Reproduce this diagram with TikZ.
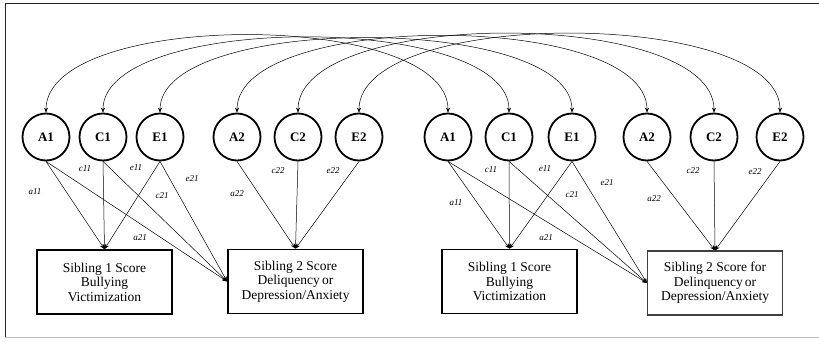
\documentclass[tikz,border=0pt]{standalone}
\usepackage{fontspec}
\setmainfont{Liberation Serif}
\usetikzlibrary{arrows.meta}
\begin{document}
\begin{tikzpicture}[x=1pt,y=-1pt,
  latent/.style={circle,draw,line width=1.8pt,minimum size=47pt,inner sep=0pt,font=\fontsize{13}{13}\selectfont\bfseries},
  obsbox/.style={draw,line width=1.7pt,minimum width=135pt,minimum height=64pt,align=center,inner sep=2pt,font=\fontsize{13.5}{14.5}\selectfont},
  obsthin/.style={obsbox,line width=1.1pt,draw=black!75},
  path/.style={line width=0.5pt,-{Stealth[length=5pt,width=4pt]}},
  cov/.style={line width=0.5pt,{Stealth[length=5pt,width=4pt]}-{Stealth[length=5pt,width=4pt]}},
  coef/.style={font=\fontsize{9}{9}\selectfont\itshape,inner sep=0pt}]
\useasboundingbox (0,0) rectangle (819,342);
% frame
\draw[line width=0.9pt,black!85] (819,3) coordinate (fTR) -- (5,3) coordinate (fTL) -- (5,337) coordinate (fBL);
\draw[line width=0.9pt,black!25] (fBL) -- (819,337);
% latent variables, left model
\node[latent] (lA1) at (46,137) {A1};
\node[latent] (lC1) at (103,137) {C1};
\node[latent] (lE1) at (160,137) {E1};
\node[latent] (lA2) at (237,137) {A2};
\node[latent] (lC2) at (298,137) {C2};
\node[latent] (lE2) at (359,137) {E2};
% latent variables, right model
\node[latent] (rA1) at (448,137) {A1};
\node[latent] (rC1) at (509,137) {C1};
\node[latent] (rE1) at (572,137) {E1};
\node[latent] (rA2) at (647,137) {A2};
\node[latent] (rC2) at (714,137) {C2};
\node[latent] (rE2) at (780,137) {E2};
% observed
\node[obsbox] (lS1) at (104.5,282) {Sibling 1 Score\\Bullying\\Victimization};
\node[obsbox] (lS2) at (295.5,281.5) {Sibling 2 Score\\Deliquency\,or\\Depression/Anxiety};
\node[obsbox] (rS1) at (509.5,281.5) {Sibling 1 Score\\Bullying\\Victimization};
\node[obsthin] (rS2) at (715,283) {Sibling 2 Score for\\Delinquency\,or\\Depression/Anxiety};
% covariances
\draw[cov] (lA1.north) .. controls +(0,-103) and +(0,-103) .. (rA1.north);
\draw[cov] (lC1.north) .. controls +(0,-100) and +(0,-100) .. (rC1.north);
\draw[cov] (lE1.north) .. controls +(0,-99) and +(0,-99) .. (rE1.north);
\draw[cov] (lA2.north) .. controls +(0,-102) and +(0,-102) .. (rA2.north);
\draw[cov] (lC2.north) .. controls +(0,-105) and +(0,-105) .. (rC2.north);
\draw[cov] (lE2.north) .. controls +(0,-105) and +(0,-105) .. (rE2.north);
% paths
\foreach \s in {l,r}{
  \draw[path] (\s A1.south) -- (\s S1.north);
  \draw[path] (\s C1.south) -- (\s S1.north);
  \draw[path] (\s E1.south) -- (\s S1.north);
  \draw[path] (\s A1.south) -- (\s S2.west);
  \draw[path] (\s C1.south) -- (\s S2.west);
  \draw[path] (\s E1.south) -- (\s S2.west);
  \draw[path] (\s A2.south) -- (\s S2.north);
  \draw[path] (\s C2.south) -- (\s S2.north);
  \draw[path] (\s E2.south) -- (\s S2.north);
}
% coefficient labels, left
\node[coef] (la11) at (35,192) {a11};
\node[coef] (lc11) at (85,169) {c11};
\node[coef] (le11) at (136,168) {e11};
\node[coef] (le21) at (192,179) {e21};
\node[coef] (lc21) at (162,196) {c21};
\node[coef] (la21) at (140,238) {a21};
\node[coef] (la22) at (237,194) {a22};
\node[coef] (lc22) at (278,171) {c22};
\node[coef] (le22) at (333,171) {e22};
% coefficient labels, right
\node[coef] (ra11) at (456,203) {a11};
\node[coef] (rc11) at (491,170) {c11};
\node[coef] (re11) at (545,169) {e11};
\node[coef] (re21) at (607,183) {e21};
\node[coef] (rc21) at (572,195) {c21};
\node[coef] (ra21) at (546,238) {a21};
\node[coef] (ra22) at (654,199) {a22};
\node[coef] (rc22) at (693,171) {c22};
\node[coef] (re22) at (755,172) {e22};
\end{tikzpicture}
\end{document}
